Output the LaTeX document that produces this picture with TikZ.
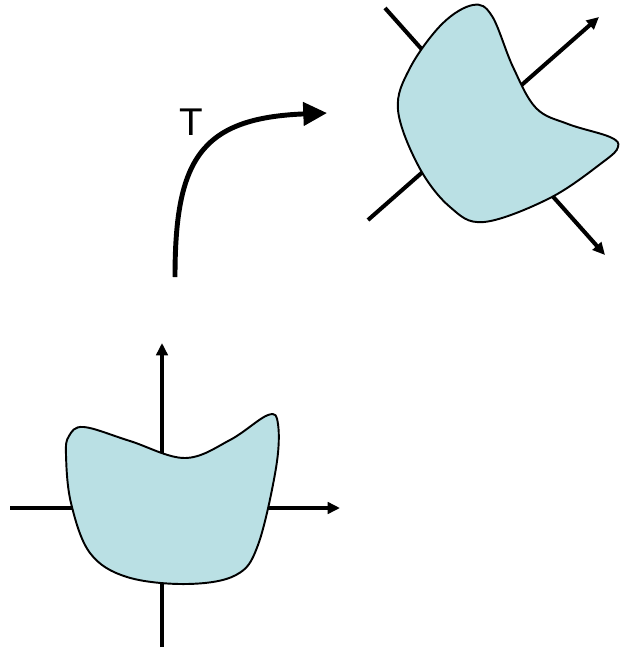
\documentclass[tikz,border=0pt]{standalone}
\usepackage{fontspec}
\setmainfont{Liberation Sans}
\usepackage{tikz}
\usetikzlibrary{arrows.meta}
\usepackage{xcolor}
\definecolor{regionfill}{RGB}{186,224,228}

\tikzset{
	axis/.style={line width=2.3pt, -{Triangle[length=7pt,width=6.5pt]}},
	region/.style={fill=regionfill, draw=black, line width=1.1pt},
	maparrow/.style={line width=2.8pt, -{Triangle[length=13.5pt,width=13pt]}}
}

\begin{document}
\begin{tikzpicture}[x=0.02cm,y=-0.02cm]
	\useasboundingbox (0,0) rectangle (620,650);

	% original axes
	\coordinate (xl) at (10,508);
	\coordinate (xr) at (340,508);
	\coordinate (yb) at (162,647);
	\coordinate (yt) at (162,343);
	\draw[axis] (xl) -- (xr);
	\draw[axis] (yb) -- (yt);

	% original region
	\filldraw[region] plot[smooth cycle, tension=0.6] coordinates {
		(69,436) (84,427) (130,441) (185,458) (230,440)
		(268,415) (278,424) (276,468) (258,545) (236,575) (187,584)
		(127,577) (90,553) (71,503) (66,455)};

	% transformed axes
	\coordinate (ul) at (385,8);
	\coordinate (dr) at (605,255);
	\coordinate (dl) at (368,220);
	\coordinate (ur) at (599,17);
	\draw[axis] (ul) -- (dr);
	\draw[axis] (dl) -- (ur);

	% transformed region
	\filldraw[region] plot[smooth cycle, tension=0.6] coordinates {
		(473,5) (492,16) (513,67) (536,108) (568,124) (610,137)
		(618,147) (603,162) (550,198) (484,222) (450,207) (419,167)
		(398,110) (410,68) (442,24)};

	% the map T
	\coordinate (tstart) at (175,277);
	\coordinate (ttip) at (327,113);
	\draw[maparrow] (tstart) .. controls (175,160) and (200,118) .. (ttip);
	\node (T) at (191,122) {\fontsize{22pt}{24pt}\selectfont T};
\end{tikzpicture}
\end{document}
